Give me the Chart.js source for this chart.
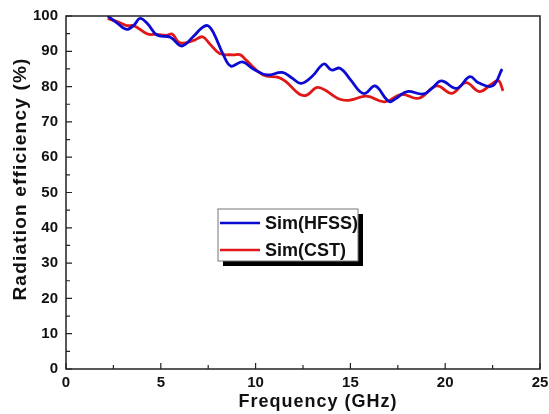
<!DOCTYPE html>
<html>
<head>
<meta charset="utf-8">
<script src="https://cdn.jsdelivr.net/npm/chart.js"></script>
<style>
  html, body { margin: 0; padding: 0; background: #fff; }
  #wrap { width: 549px; height: 414px; }
</style>
</head>
<body>
<div id="wrap"><canvas id="myChart" width="549" height="414"></canvas></div>
<script>
// frequency (GHz) and radiation efficiency (%)
let hfssFreq = [2.2, 2.7, 3.2, 3.6, 3.9, 4.3, 4.8, 5.5, 6.1, 6.7, 7.2, 7.5, 7.8, 8.3, 8.7, 9.3, 9.9, 10.6, 11.4, 11.9, 12.4, 13.0, 13.6, 14.0, 14.45, 15.0, 15.5, 15.8, 16.3, 16.9, 17.1, 17.5, 18.0, 18.85, 19.3, 19.8, 20.6, 21.3, 21.75, 22.5, 23.0];
let hfssEff = [100, 98, 96.2, 97.5, 99.3, 97.8, 94.6, 94, 91.5, 94.1, 96.8, 97.2, 95, 89, 85.8, 87, 84.9, 83.3, 84, 82.5, 80.9, 83, 86.4, 84.7, 85.2, 82, 78.6, 78.1, 80.2, 76.4, 75.7, 77, 78.6, 77.9, 79.5, 81.6, 79.5, 82.8, 81.1, 80.2, 85];

let cstFreq = [2.2, 2.8, 3.2, 3.6, 4.3, 4.8, 5.3, 5.6, 6.0, 6.7, 7.2, 7.6, 8.1, 8.8, 9.2, 9.5, 10.4, 11.2, 11.6, 12.3, 12.7, 13.3, 14.45, 15.0, 15.85, 16.8, 17.7, 18.6, 19.55, 20.35, 21.1, 21.8, 22.4, 22.8, 23.05];
let cstEff = [99.3, 98.2, 97.3, 97.2, 94.9, 94.8, 94.5, 94.9, 92.4, 93, 94.1, 92, 89.4, 89, 89, 87.5, 83.3, 82.6, 81.4, 77.9, 77.6, 79.8, 76.4, 76.2, 77.3, 75.7, 77.8, 76.7, 80.2, 78.1, 81.1, 78.6, 80.5, 81.7, 78.8];

let seriesNames = ["Sim(HFSS)", "Sim(CST)"];
let seriesColors = ["#0a0ad2", "#e01818"];

let xTicks = [0, 5, 10, 15, 20, 25];
let yTicks = [0, 10, 20, 30, 40, 50, 60, 70, 80, 90, 100];

let xTitle = "Frequency (GHz)";
let yTitle = "Radiation efficiency (%)";

function toPoints(xs, ys) {
  return xs.map((x, i) => ({ x: x, y: ys[i] }));
}

const FONT = "'Liberation Sans', Arial, sans-serif";

// frame, inward ticks, axis titles and the boxed legend with its shadow
const framePlugin = {
  id: "frame",
  afterDraw(chart) {
    let ctx = chart.ctx;
    let a = chart.chartArea;
    let xs = chart.scales.x;
    let ys = chart.scales.y;
    ctx.save();
    ctx.strokeStyle = "#222";
    ctx.lineWidth = 1.5;
    ctx.strokeRect(a.left, a.top, a.right - a.left, a.bottom - a.top);

    ctx.lineWidth = 1.2;
    ctx.beginPath();
    for (let v = 0; v <= 25; v += 2.5) {
      let px = xs.getPixelForValue(v);
      let len = v % 5 === 0 ? 6 : 4;
      ctx.moveTo(px, a.bottom);
      ctx.lineTo(px, a.bottom - len);
    }
    for (let v = 0; v <= 100; v += 5) {
      let py = ys.getPixelForValue(v);
      let len = v % 10 === 0 ? 6 : 4;
      ctx.moveTo(a.left, py);
      ctx.lineTo(a.left + len, py);
    }
    ctx.stroke();

    // axis titles
    ctx.fillStyle = "#111";
    ctx.textAlign = "center";
    ctx.textBaseline = "middle";
    ctx.font = "bold 18px " + FONT;
    ctx.letterSpacing = "1px";
    ctx.fillText(xTitle, a.left + 252, a.bottom + 33);
    ctx.save();
    ctx.translate(21, a.top + 163);
    ctx.rotate(-Math.PI / 2);
    ctx.font = "bold 19px " + FONT;
    ctx.letterSpacing = "1.2px";
    ctx.fillText(yTitle, 0, 0);
    ctx.restore();
    ctx.letterSpacing = "0px";

    // legend
    let lx = a.left + 152, ly = a.top + 193, lw = 140, lh = 52;
    ctx.fillStyle = "#000";
    ctx.fillRect(lx + 5, ly + 5, lw, lh);
    ctx.fillStyle = "#fff";
    ctx.fillRect(lx, ly, lw, lh);
    ctx.strokeStyle = "#777";
    ctx.lineWidth = 1;
    ctx.strokeRect(lx, ly, lw, lh);

    ctx.font = "bold 18px " + FONT;
    ctx.textAlign = "left";
    ctx.textBaseline = "middle";
    for (let i = 0; i < seriesNames.length; i++) {
      let yy = ly + 14 + i * 27;
      ctx.strokeStyle = seriesColors[i];
      ctx.lineWidth = 2.5;
      ctx.beginPath();
      ctx.moveTo(lx + 2, yy);
      ctx.lineTo(lx + 42, yy);
      ctx.stroke();
      ctx.fillStyle = "#111";
      ctx.fillText(seriesNames[i], lx + 47, yy + 1);
    }
    ctx.restore();
  }
};

let ctx = document.getElementById("myChart").getContext("2d");
let myChart = new Chart(ctx, {
  type: "line",
  data: {
    datasets: [
      {
        label: seriesNames[0],
        data: toPoints(hfssFreq, hfssEff),
        borderColor: seriesColors[0],
        borderWidth: 2.8,
        pointRadius: 0,
        tension: 0.4,
        fill: false,
      },
      {
        label: seriesNames[1],
        data: toPoints(cstFreq, cstEff),
        borderColor: seriesColors[1],
        borderWidth: 2.8,
        pointRadius: 0,
        tension: 0.4,
        fill: false,
      },
    ],
  },
  options: {
    responsive: false,
    animation: false,
    layout: { padding: { top: 16, right: 9, left: 0, bottom: 0 } },
    plugins: {
      legend: { display: false },
      tooltip: { enabled: false },
    },
    scales: {
      x: {
        type: "linear",
        min: 0,
        max: 25,
        afterBuildTicks: (scale) => { scale.ticks = xTicks.map((v) => ({ value: v })); },
        afterFit: (scale) => {
          scale.height = 45;
          scale.paddingLeft = 0;
          scale.paddingRight = 0;
        },
        grid: { display: false, drawTicks: false },
        border: { display: false },
        ticks: {
          color: "#111",
          padding: 5,
          maxRotation: 0,
          font: { family: FONT, size: 15, weight: "bold" },
        },
      },
      y: {
        min: 0,
        max: 100,
        afterBuildTicks: (scale) => { scale.ticks = yTicks.map((v) => ({ value: v })); },
        afterFit: (scale) => {
          scale.width = 66;
          scale.paddingTop = 0;
          scale.paddingBottom = 0;
        },
        grid: { display: false, drawTicks: false },
        border: { display: false },
        ticks: {
          color: "#111",
          padding: 8,
          font: { family: FONT, size: 15, weight: "bold" },
        },
      },
    },
  },
  plugins: [framePlugin],
});
</script>
</body>
</html>
